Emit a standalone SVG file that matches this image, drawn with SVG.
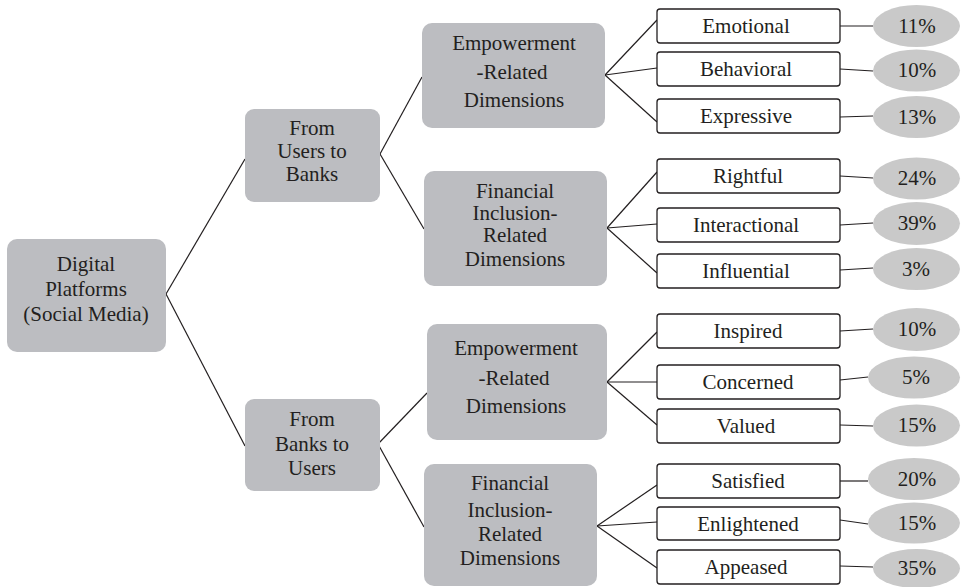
<svg xmlns="http://www.w3.org/2000/svg" width="961" height="587" viewBox="0 0 961 587">
<style>
.box{fill:#bcbdc1;stroke:none}
.leaf{fill:#ffffff;stroke:#231f20;stroke-width:1.3}
.pct{fill:#c9c9c9;stroke:none}
text{font-family:"Liberation Serif","Times New Roman",serif;font-size:21px;fill:#231f20;text-anchor:middle}
#connectors line{stroke:#231f20;stroke-width:1.2;fill:none}
</style>
<rect width="961" height="587" fill="#ffffff"/>
<g id="connectors">
<line x1="166" y1="294" x2="245" y2="159"/>
<line x1="166" y1="294" x2="245" y2="446"/>
<line x1="380" y1="154" x2="422" y2="77"/>
<line x1="380" y1="154" x2="424" y2="229"/>
<line x1="378" y1="444" x2="427" y2="393"/>
<line x1="378" y1="444" x2="424" y2="527"/>
<line x1="605" y1="75" x2="657" y2="20"/>
<line x1="605" y1="75" x2="657" y2="68"/>
<line x1="605" y1="75" x2="657" y2="122"/>
<line x1="607" y1="228" x2="657" y2="172"/>
<line x1="607" y1="228" x2="657" y2="224"/>
<line x1="607" y1="228" x2="657" y2="273"/>
<line x1="607" y1="382" x2="657" y2="332"/>
<line x1="607" y1="382" x2="657" y2="382"/>
<line x1="607" y1="382" x2="657" y2="425"/>
<line x1="597" y1="526" x2="657" y2="485"/>
<line x1="597" y1="526" x2="657" y2="522"/>
<line x1="597" y1="526" x2="657" y2="568"/>
<line x1="840" y1="26" x2="873" y2="26"/>
<line x1="840" y1="69" x2="873" y2="71"/>
<line x1="840" y1="117" x2="873" y2="116"/>
<line x1="840" y1="176" x2="873" y2="178"/>
<line x1="840" y1="225" x2="873" y2="223"/>
<line x1="840" y1="270" x2="873" y2="268"/>
<line x1="840" y1="331" x2="873" y2="329"/>
<line x1="840" y1="380" x2="868" y2="377"/>
<line x1="840" y1="425" x2="873" y2="426"/>
<line x1="840" y1="481" x2="868" y2="481"/>
<line x1="840" y1="520" x2="868" y2="524"/>
<line x1="840" y1="566" x2="873" y2="567"/>
</g>
<g id="root"><rect class="box" x="7" y="239" width="159" height="113" rx="10"/>
<text x="86" y="271">Digital</text><text x="86" y="296">Platforms</text><text x="86" y="321">(Social Media)</text></g>
<g id="users-to-banks"><rect class="box" x="245" y="109" width="135" height="93" rx="9"/>
<text x="312" y="135">From</text><text x="312" y="158">Users to</text><text x="312" y="181">Banks</text></g>
<g id="banks-to-users"><rect class="box" x="245" y="399" width="135" height="92" rx="9"/>
<text x="312" y="426">From</text><text x="312" y="451">Banks to</text><text x="312" y="475">Users</text></g>
<g id="emp1"><rect class="box" x="422" y="23" width="183" height="105" rx="10"/>
<text x="514" y="50">Empowerment</text><text x="512" y="79">-Related</text><text x="514" y="107">Dimensions</text></g>
<g id="fin1"><rect class="box" x="424" y="171" width="183" height="115" rx="10"/>
<text x="515" y="198">Financial</text><text x="515" y="220">Inclusion-</text><text x="515" y="242">Related</text><text x="515" y="266">Dimensions</text></g>
<g id="emp2"><rect class="box" x="427" y="324" width="180" height="116" rx="10"/>
<text x="516" y="355">Empowerment</text><text x="514" y="385">-Related</text><text x="516" y="413">Dimensions</text></g>
<g id="fin2"><rect class="box" x="424" y="464" width="173" height="122" rx="10"/>
<text x="510" y="490">Financial</text><text x="510" y="517">Inclusion-</text><text x="510" y="541">Related</text><text x="510" y="565">Dimensions</text></g>
<g id="emotional"><rect class="leaf" x="657" y="9" width="183" height="34" rx="3"/><text x="746" y="33">Emotional</text></g>
<g id="behavioral"><rect class="leaf" x="657" y="52" width="183" height="34" rx="3"/><text x="746" y="76">Behavioral</text></g>
<g id="expressive"><rect class="leaf" x="657" y="99" width="183" height="34" rx="3"/><text x="746" y="123">Expressive</text></g>
<g id="rightful"><rect class="leaf" x="657" y="159" width="183" height="34" rx="3"/><text x="748" y="183">Rightful</text></g>
<g id="interactional"><rect class="leaf" x="657" y="208" width="183" height="34" rx="3"/><text x="746" y="232">Interactional</text></g>
<g id="influential"><rect class="leaf" x="657" y="254" width="183" height="34" rx="3"/><text x="746" y="278">Influential</text></g>
<g id="inspired"><rect class="leaf" x="657" y="314" width="183" height="34" rx="3"/><text x="748" y="338">Inspired</text></g>
<g id="concerned"><rect class="leaf" x="657" y="365" width="183" height="34" rx="3"/><text x="748" y="389">Concerned</text></g>
<g id="valued"><rect class="leaf" x="657" y="409" width="183" height="34" rx="3"/><text x="746" y="433">Valued</text></g>
<g id="satisfied"><rect class="leaf" x="657" y="464" width="183" height="34" rx="3"/><text x="748" y="488">Satisfied</text></g>
<g id="enlightened"><rect class="leaf" x="657" y="507" width="183" height="33" rx="3"/><text x="748" y="531">Enlightened</text></g>
<g id="appeased"><rect class="leaf" x="657" y="550" width="183" height="34" rx="3"/><text x="746" y="574">Appeased</text></g>
<g id="p-emotional"><ellipse class="pct" cx="916.5" cy="26" rx="43.5" ry="21"/><text x="917" y="33">11%</text></g>
<g id="p-behavioral"><ellipse class="pct" cx="916.5" cy="70.5" rx="43.5" ry="21"/><text x="917" y="77">10%</text></g>
<g id="p-expressive"><ellipse class="pct" cx="916.5" cy="117" rx="43.5" ry="21"/><text x="917" y="124">13%</text></g>
<g id="p-rightful"><ellipse class="pct" cx="916.5" cy="178.5" rx="43.5" ry="21"/><text x="917" y="185">24%</text></g>
<g id="p-interactional"><ellipse class="pct" cx="916.5" cy="223.5" rx="43.5" ry="21.5"/><text x="917" y="230">39%</text></g>
<g id="p-influential"><ellipse class="pct" cx="916.5" cy="269" rx="43.5" ry="21"/><text x="916" y="276">3%</text></g>
<g id="p-inspired"><ellipse class="pct" cx="916.5" cy="329.5" rx="43.5" ry="21.5"/><text x="917" y="336">10%</text></g>
<g id="p-concerned"><ellipse class="pct" cx="914" cy="377.5" rx="46" ry="21"/><text x="916" y="384">5%</text></g>
<g id="p-valued"><ellipse class="pct" cx="916.5" cy="425.5" rx="43.5" ry="21"/><text x="917" y="432">15%</text></g>
<g id="p-satisfied"><ellipse class="pct" cx="914" cy="479" rx="46" ry="21"/><text x="917" y="486">20%</text></g>
<g id="p-enlightened"><ellipse class="pct" cx="914" cy="523" rx="46" ry="20.5"/><text x="917" y="530">15%</text></g>
<g id="p-appeased"><ellipse class="pct" cx="916.5" cy="568.5" rx="43.5" ry="19.5"/><text x="917" y="575">35%</text></g>
</svg>
